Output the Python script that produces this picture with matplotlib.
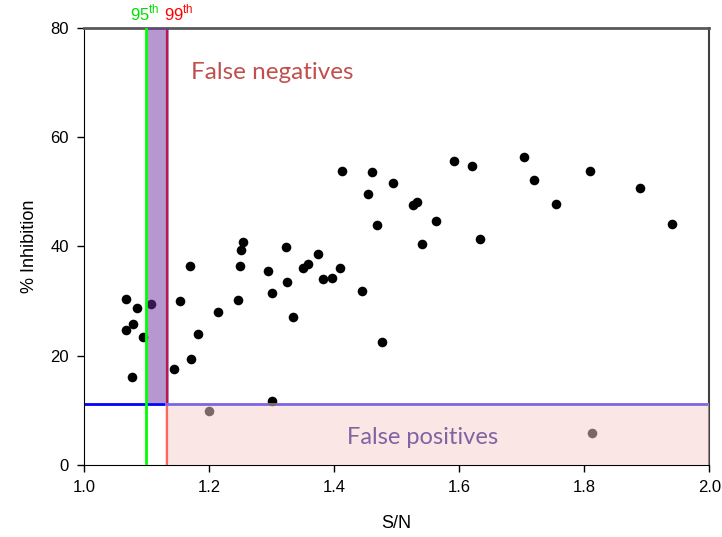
import matplotlib
matplotlib.use("Agg")
from matplotlib import pyplot as plt

plt.rcParams['font.family'] = ['Liberation Sans', 'DejaVu Sans']
plt.rcParams['mathtext.fontset'] = 'custom'
plt.rcParams['mathtext.rm'] = 'Liberation Sans'

# screening results: signal/noise vs inhibition
sn = [1.067, 1.085, 1.078, 1.067, 1.094, 1.077, 1.108, 1.154, 1.169, 1.144,
      1.171, 1.183, 1.214, 1.247, 1.250, 1.251, 1.255, 1.295, 1.301, 1.323,
      1.325, 1.335, 1.351, 1.358, 1.375, 1.382, 1.396, 1.409, 1.412, 1.445,
      1.455, 1.460, 1.469, 1.477, 1.495, 1.526, 1.533, 1.541, 1.563, 1.592,
      1.620, 1.633, 1.704, 1.720, 1.755, 1.810, 1.889, 1.941, 1.301, 1.200,
      1.812]
inhibition = [30.3, 28.8, 25.9, 24.7, 23.5, 16.1, 29.5, 30.1, 36.5, 17.5,
              19.4, 23.9, 28.0, 30.2, 36.4, 39.3, 40.8, 35.6, 31.4, 39.9,
              33.5, 27.1, 36.1, 36.8, 38.6, 34.1, 34.3, 36.1, 53.9, 31.9,
              49.6, 53.6, 44.0, 22.6, 51.6, 47.6, 48.1, 40.4, 44.7, 55.7,
              54.8, 41.3, 56.3, 52.1, 47.7, 53.9, 50.7, 44.1, 11.7, 9.8,
              5.8]

cut95 = 1.099
cut99 = 1.133
threshold = 11.17

fig = plt.figure(figsize=(7.22, 5.37), dpi=100)
ax = fig.add_axes([0.1163, 0.134, 0.866, 0.814])

ax.scatter(sn, inhibition, s=48, color='black', zorder=2, linewidths=0)

ax.axvline(cut99, color='#ff0000', lw=1.6, zorder=1)
ax.axhline(threshold, color='#0000ff', lw=2, zorder=1)

# shaded regions drawn over the points and the cut-off lines
ax.fill_between([cut95, cut99 + 0.003], threshold + 0.2, 80, color='#7030a0',
                alpha=0.5, lw=0, zorder=3)
ax.fill_between([cut99 - 0.003, 2.0], 0, threshold + 0.25, color='#f7cfcb',
                alpha=0.5, lw=0, zorder=3)
ax.axvline(cut95, color='#00ff00', lw=2, zorder=4)

ax.text(1.171, 71.8, 'False negatives', color='#c0504d', fontsize=17.5,
        family='Lato', va='center', ha='left')
ax.text(1.420, 5.1, 'False positives', color='#8064a2', fontsize=17,
        family='Lato', va='center', ha='left')

ax.text(cut95 - 0.002, 80.8, r'95$^{\rm th}$', color='#00e000', fontsize=12,
        ha='center', va='bottom')
ax.text(cut99 + 0.018, 80.8, r'99$^{\rm th}$', color='#ff0000', fontsize=12,
        ha='center', va='bottom')

ax.set_xlim(1.0, 2.0)
ax.set_ylim(0, 80)
ax.set_xticks([1.0, 1.2, 1.4, 1.6, 1.8, 2.0])
ax.set_xticklabels(['1.0', '1.2', '1.4', '1.6', '1.8', '2.0'])
ax.set_yticks([0, 20, 40, 60, 80])
ax.tick_params(direction='out', length=5, width=1, labelsize=12, pad=6)
ax.set_xlabel('S/N', fontsize=13, labelpad=14)
ax.set_ylabel('% Inhibition', fontsize=13, labelpad=9)

ax.spines['top'].set_color('#595959')
ax.spines['top'].set_linewidth(2)
ax.spines['right'].set_color('#404040')
ax.spines['right'].set_linewidth(1.5)

fig.savefig('out.png', dpi=100)
